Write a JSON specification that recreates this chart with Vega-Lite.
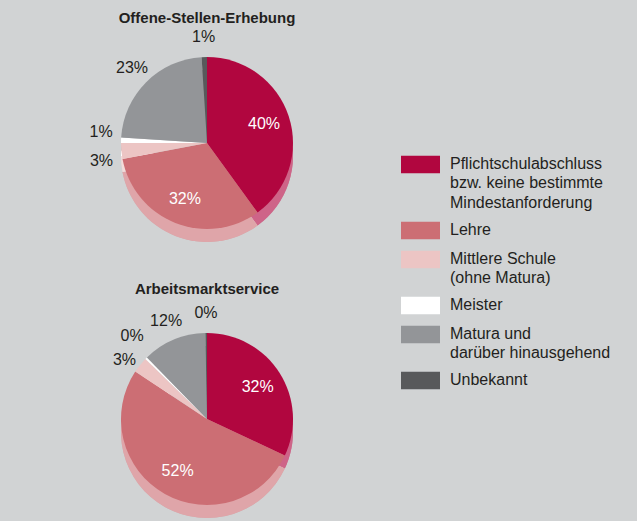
{
  "$schema": "https://vega.github.io/schema/vega-lite/v6.json",
  "background": "#d1d3d4",
  "padding": {"left": 17, "top": 11, "right": 32, "bottom": 3},
  "config": {
    "view": {"stroke": null},
    "font": "Liberation Sans",
    "title": {"fontSize": 15, "fontWeight": "bold", "color": "#231f20", "frame": "group"},
    "style": {"guide-label": {"lineHeight": 19.5, "dy": -9}}
  },
  "data": {
    "values": [
      {"survey": "OSE", "category": "Pflichtschulabschluss bzw. keine bestimmte Mindestanforderung", "order": 1, "value": 0.40},
      {"survey": "OSE", "category": "Lehre", "order": 2, "value": 0.32},
      {"survey": "OSE", "category": "Mittlere Schule (ohne Matura)", "order": 3, "value": 0.03},
      {"survey": "OSE", "category": "Meister", "order": 4, "value": 0.01},
      {"survey": "OSE", "category": "Matura und darüber hinausgehend", "order": 5, "value": 0.23},
      {"survey": "OSE", "category": "Unbekannt", "order": 6, "value": 0.01},
      {"survey": "AMS", "category": "Pflichtschulabschluss bzw. keine bestimmte Mindestanforderung", "order": 1, "value": 0.32},
      {"survey": "AMS", "category": "Lehre", "order": 2, "value": 0.523},
      {"survey": "AMS", "category": "Mittlere Schule (ohne Matura)", "order": 3, "value": 0.03},
      {"survey": "AMS", "category": "Meister", "order": 4, "value": 0.004},
      {"survey": "AMS", "category": "Matura und darüber hinausgehend", "order": 5, "value": 0.12},
      {"survey": "AMS", "category": "Unbekannt", "order": 6, "value": 0.003}
    ]
  },
  "spacing": 32,
  "vconcat": [
    {
      "title": {"text": "Offene-Stellen-Erhebung", "offset": 3},
      "width": 380,
      "height": 200,
      "transform": [{"filter": "datum.survey == 'OSE'"}],
      "encoding": {
        "theta": {"field": "value", "type": "quantitative", "stack": true},
        "order": {"field": "order", "type": "quantitative"}
      },
      "layer": [
        {
          "mark": {"type": "arc", "outerRadius": 86, "yOffset": 13},
          "encoding": {
            "color": {"field": "category", "type": "nominal",
              "scale": {"domain": ["Pflichtschulabschluss bzw. keine bestimmte Mindestanforderung", "Lehre", "Mittlere Schule (ohne Matura)", "Meister", "Matura und darüber hinausgehend", "Unbekannt"],
                        "range": ["#b1063f", "#cc6e74", "#ecc5c4", "#ffffff", "#939598", "#58595b"]},
              "legend": {
                "orient": "right", "offset": 4, "title": " ", "titleFontSize": 4, "titlePadding": 98, "padding": 0,
                "symbolType": "M-1,-0.45H1V0.45H-1Z", "symbolSize": 1521, "symbolStrokeWidth": 0,
                "labelFontSize": 16, "labelColor": "#231f20", "labelOffset": 10, "labelLimit": 300,
                "labelBaseline": "top", "rowPadding": 0,
                "labelExpr": "datum.label == 'Pflichtschulabschluss bzw. keine bestimmte Mindestanforderung' ? ['Pflichtschulabschluss', 'bzw. keine bestimmte', 'Mindestanforderung'] : datum.label == 'Mittlere Schule (ohne Matura)' ? ['Mittlere Schule', '(ohne Matura)'] : datum.label == 'Matura und darüber hinausgehend' ? ['Matura und', 'darüber hinausgehend'] : datum.label"
              }
            }
          }
        },
        {
          "mark": {"type": "arc", "outerRadius": 86, "yOffset": 13, "fill": "#ffffff", "fillOpacity": 0.38}
        },
        {
          "mark": {"type": "arc", "outerRadius": 86},
          "encoding": {
            "color": {"field": "category", "type": "nominal"}
          }
        },
        {
          "mark": {"type": "text", "radius": 60, "fontSize": 16, "fill": "#ffffff"},
          "encoding": {
            "text": {"condition": {"test": "datum.order <= 2", "field": "value", "type": "quantitative", "format": ".0%"}, "value": ""}
          }
        },
        {
          "mark": {"type": "text", "radius": 106, "fontSize": 16, "fill": "#231f20",
                   "baseline": {"expr": "datum.category == 'Meister' ? 'bottom' : datum.category == 'Mittlere Schule (ohne Matura)' ? 'top' : 'middle'"}},
          "encoding": {
            "text": {"condition": {"test": "datum.order > 2", "field": "value", "type": "quantitative", "format": ".0%"}, "value": ""}
          }
        }
      ]
    },
    {
      "title": {"text": "Arbeitsmarktservice", "offset": 8},
      "width": 380,
      "height": 200,
      "transform": [{"filter": "datum.survey == 'AMS'"}],
      "encoding": {
        "theta": {"field": "value", "type": "quantitative", "stack": true},
        "order": {"field": "order", "type": "quantitative"}
      },
      "layer": [
        {
          "mark": {"type": "arc", "outerRadius": 86, "yOffset": 13},
          "encoding": {
            "color": {"field": "category", "type": "nominal"}
          }
        },
        {
          "mark": {"type": "arc", "outerRadius": 86, "yOffset": 13, "fill": "#ffffff", "fillOpacity": 0.38}
        },
        {
          "mark": {"type": "arc", "outerRadius": 86},
          "encoding": {
            "color": {"field": "category", "type": "nominal"}
          }
        },
        {
          "mark": {"type": "text", "radius": 60, "fontSize": 16, "fill": "#ffffff"},
          "encoding": {
            "text": {"condition": {"test": "datum.order <= 2", "field": "value", "type": "quantitative", "format": ".0%"}, "value": ""}
          }
        },
        {
          "mark": {"type": "text", "radius": 106, "fontSize": 16, "fill": "#231f20",
                   "baseline": {"expr": "datum.category == 'Meister' ? 'bottom' : datum.category == 'Mittlere Schule (ohne Matura)' ? 'top' : 'middle'"}},
          "encoding": {
            "text": {"condition": {"test": "datum.order > 2", "field": "value", "type": "quantitative", "format": ".0%"}, "value": ""}
          }
        }
      ]
    }
  ]
}
